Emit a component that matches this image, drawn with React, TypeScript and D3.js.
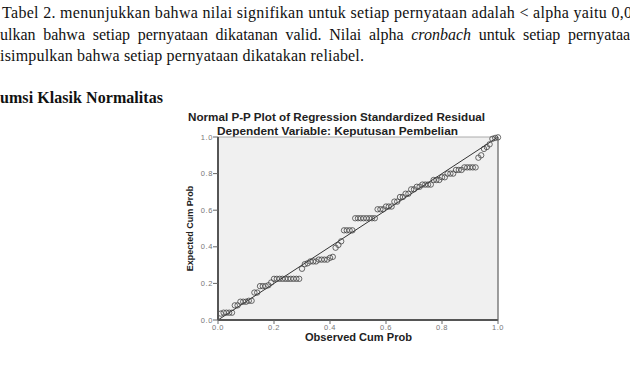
import React from 'react';
import * as d3 from 'd3';

const observed = [
  0.01, 0.02, 0.03, 0.04, 0.05, 0.06, 0.07, 0.08, 0.09, 0.10,
  0.11, 0.12, 0.13, 0.14, 0.15, 0.16, 0.17, 0.18, 0.19, 0.20,
  0.21, 0.22, 0.23, 0.24, 0.25, 0.26, 0.27, 0.28, 0.29, 0.30,
  0.31, 0.32, 0.33, 0.34, 0.35, 0.36, 0.37, 0.38, 0.39, 0.40,
  0.41, 0.42, 0.43, 0.44, 0.45, 0.46, 0.47, 0.48, 0.49, 0.50,
  0.51, 0.52, 0.53, 0.54, 0.55, 0.56, 0.57, 0.58, 0.59, 0.60,
  0.61, 0.62, 0.63, 0.64, 0.65, 0.66, 0.67, 0.68, 0.69, 0.70,
  0.71, 0.72, 0.73, 0.74, 0.75, 0.76, 0.77, 0.78, 0.79, 0.80,
  0.81, 0.82, 0.83, 0.84, 0.85, 0.86, 0.87, 0.88, 0.89, 0.90,
  0.91, 0.92, 0.93, 0.94, 0.95, 0.96, 0.97, 0.98, 0.99, 1.00,
];

const expected = [
  0.035, 0.04, 0.04, 0.04, 0.04, 0.08, 0.08, 0.10, 0.10, 0.10,
  0.105, 0.105, 0.15, 0.15, 0.185, 0.185, 0.185, 0.19, 0.205, 0.225,
  0.225, 0.225, 0.225, 0.225, 0.225, 0.225, 0.225, 0.225, 0.225, 0.28,
  0.305, 0.31, 0.32, 0.32, 0.32, 0.33, 0.33, 0.33, 0.33, 0.34,
  0.345, 0.395, 0.41, 0.43, 0.49, 0.49, 0.49, 0.49, 0.556, 0.556,
  0.556, 0.556, 0.556, 0.556, 0.556, 0.556, 0.605, 0.605, 0.605, 0.62,
  0.62, 0.62, 0.647, 0.647, 0.672, 0.672, 0.69, 0.69, 0.714, 0.714,
  0.728, 0.728, 0.74, 0.74, 0.74, 0.74, 0.765, 0.765, 0.765, 0.78,
  0.78, 0.80, 0.80, 0.80, 0.82, 0.82, 0.82, 0.834, 0.834, 0.834,
  0.834, 0.834, 0.887, 0.90, 0.935, 0.945, 0.96, 0.99, 0.995, 0.998,
];

const tickValues = [0, 0.2, 0.4, 0.6, 0.8, 1.0];
const tickLabels = ['0.0', '0.2', '0.4', '0.6', '0.8', '1.0'];

const chartTitle = 'Normal P-P Plot of Regression Standardized Residual';
const chartSubtitle = 'Dependent Variable: Keputusan Pembelian';
const xAxisLabel = 'Observed Cum Prob';
const yAxisLabel = 'Expected Cum Prob';

const line1 = 'Tabel 2. menunjukkan bahwa nilai signifikan untuk setiap pernyataan adalah < alpha yaitu 0,0';
const line2a = 'ulkan bahwa setiap pernyataan dikatanan valid. Nilai alpha ';
const line2b = 'cronbach';
const line2c = ' untuk setiap pernyataan';
const line3 = 'isimpulkan bahwa setiap pernyataan dikatakan reliabel.';
const heading = 'umsi Klasik Normalitas';

export default function App() {
  const x = d3.scaleLinear().domain([0, 1]).range([218, 498]);
  const y = d3.scaleLinear().domain([0, 1]).range([320, 137]);
  const points = observed.map((o, i) => ({ o, e: expected[i] }));
  const serif = '"Liberation Serif", "Times New Roman", serif';
  const sans = '"Liberation Sans", Arial, sans-serif';

  return (
    <svg
      width={630}
      height={365}
      style={{ position: 'absolute', left: 0, top: 0, background: '#fff' }}
    >
      {/* paragraph text */}
      <g fontFamily={serif} fontSize={16} fill="#111">
        <text x={2} y={18} textLength={630} lengthAdjust="spacing">{line1}</text>
        <text x={0} y={39.5} wordSpacing={3.7}>
          <tspan>{line2a}</tspan>
          <tspan fontStyle="italic">{line2b}</tspan>
          <tspan>{line2c}</tspan>
        </text>
        <text x={0} y={60.5} textLength={364} lengthAdjust="spacing">{line3}</text>
        <text x={0} y={102.5} fontWeight="bold" textLength={163} lengthAdjust="spacing">{heading}</text>
      </g>

      {/* titles */}
      <g fontFamily={sans} fontWeight="bold" fill="#222" textAnchor="middle">
        <text x={336.5} y={121} fontSize={11} textLength={297} lengthAdjust="spacingAndGlyphs">{chartTitle}</text>
        <text x={337.5} y={134.5} fontSize={11} textLength={241} lengthAdjust="spacingAndGlyphs">{chartSubtitle}</text>
      </g>

      {/* plot area */}
      <rect x={x(0)} y={y(1)} width={x(1) - x(0)} height={y(0) - y(1)} fill="#f0f0f0" stroke="#999" strokeWidth={0.8} />

      {/* diagonal */}
      <line x1={x(0)} y1={y(0)} x2={x(1)} y2={y(1)} stroke="#333" strokeWidth={1} />

      {/* points */}
      <g fill="none" stroke="#444" strokeWidth={0.8}>
        {points.map((p, i) => (
          <circle key={i} cx={x(p.o)} cy={y(p.e)} r={2.7} />
        ))}
      </g>

      {/* axes */}
      <line x1={x(0)} y1={y(0)} x2={x(0)} y2={y(1)} stroke="#555" strokeWidth={2} />
      <line x1={x(0)} y1={y(0)} x2={x(1)} y2={y(0)} stroke="#555" strokeWidth={2} />
      <line x1={x(1)} y1={y(0)} x2={x(1)} y2={y(1)} stroke="#666" strokeWidth={1} />

      <g stroke="#666" strokeWidth={1}>
        {tickValues.map((t, i) => (
          <line key={'yt' + i} x1={x(0) - 5} x2={x(0)} y1={y(t)} y2={y(t)} />
        ))}
        {tickValues.map((t, i) => (
          <line key={'xt' + i} x1={x(t)} x2={x(t)} y1={y(0)} y2={y(0) + 4} />
        ))}
      </g>

      <g fontFamily={sans} fontSize={7.5} fill="#777">
        {tickValues.map((t, i) => (
          <text key={'yl' + i} x={x(0) - 5} y={y(t) + 2.6} textAnchor="end" letterSpacing={0.6}>{tickLabels[i]}</text>
        ))}
        {tickValues.map((t, i) => (
          <text key={'xl' + i} x={x(t)} y={y(0) + 10} textAnchor="middle" letterSpacing={0.6}>{tickLabels[i]}</text>
        ))}
      </g>

      <g fontFamily={sans} fontWeight="bold" fill="#222">
        <text x={358.5} y={341} fontSize={10} textAnchor="middle" textLength={107} lengthAdjust="spacingAndGlyphs">{xAxisLabel}</text>
        <text transform={`translate(193, ${(y(0) + y(1)) / 2}) rotate(-90)`} fontSize={9} textAnchor="middle">{yAxisLabel}</text>
      </g>
    </svg>
  );
}
